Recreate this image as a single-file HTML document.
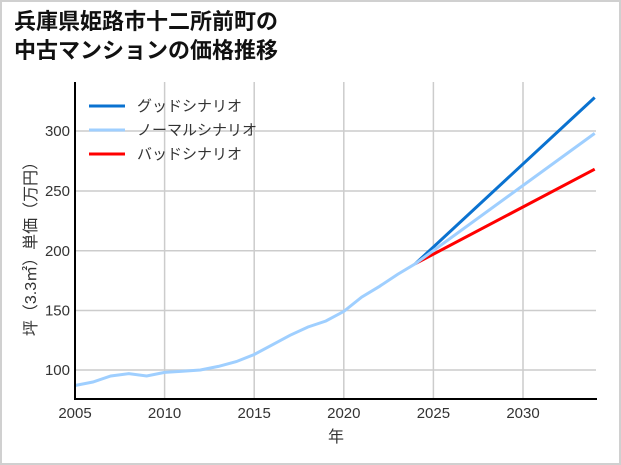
<!DOCTYPE html>
<html><head><meta charset="utf-8"><style>
html,body{margin:0;padding:0;background:#fff}
svg{display:block}
text{font-family:"Liberation Sans","Noto Sans CJK JP",sans-serif}
</style></head><body>
<svg width="621" height="465" viewBox="0 0 621 465">
<rect x="1" y="1" width="619" height="463" fill="#fff" stroke="#d0d0d0" stroke-width="2"/>
<text x="14" y="29" font-size="22" font-weight="bold" fill="#111">兵庫県姫路市十二所前町の</text>
<text x="14" y="58" font-size="22" font-weight="bold" fill="#111">中古マンションの価格推移</text>
<g stroke="#cccccc" stroke-width="1.5">
<line x1="75" y1="370" x2="596" y2="370"/>
<line x1="75" y1="310.5" x2="596" y2="310.5"/>
<line x1="75" y1="250.7" x2="596" y2="250.7"/>
<line x1="75" y1="191" x2="596" y2="191"/>
<line x1="75" y1="131" x2="596" y2="131"/>
<line x1="164.6" y1="82" x2="164.6" y2="399"/>
<line x1="254.2" y1="82" x2="254.2" y2="399"/>
<line x1="343.8" y1="82" x2="343.8" y2="399"/>
<line x1="433.4" y1="82" x2="433.4" y2="399"/>
<line x1="523" y1="82" x2="523" y2="399"/>
</g>
<polyline fill="none" stroke="#0a72d0" stroke-width="3" points="415.5,263.6 594.7,97.5"/>
<polyline fill="none" stroke="#ff0000" stroke-width="3" points="415.5,263.6 594.7,169.2"/>
<polyline fill="none" stroke="#9fcfff" stroke-width="3" points="75,385.5 92.9,382 110.8,376 128.8,373.6 146.7,376 164.6,372.4 182.5,371.2 200.4,370 218.4,366.4 236.3,361.6 254.2,354.5 272.1,344.9 290,335.3 308,327 325.9,321 343.8,311.4 361.7,297.1 379.6,286.3 397.6,274.4 415.5,263.6 594.7,133.4"/>
<rect x="597" y="80" width="22" height="330" fill="#fff"/>
<line x1="75" y1="82" x2="75" y2="400" stroke="#000" stroke-width="2"/>
<line x1="74" y1="399" x2="597" y2="399" stroke="#000" stroke-width="2"/>
<g font-size="15" fill="#333" text-anchor="end">
<text x="70" y="375">100</text>
<text x="70" y="315.5">150</text>
<text x="70" y="256">200</text>
<text x="70" y="196">250</text>
<text x="70" y="136">300</text>
</g>
<g font-size="15" fill="#333" text-anchor="middle">
<text x="75" y="418">2005</text>
<text x="164.6" y="418">2010</text>
<text x="254.2" y="418">2015</text>
<text x="343.8" y="418">2020</text>
<text x="433.4" y="418">2025</text>
<text x="523" y="418">2030</text>
<text x="336" y="442" font-size="16">年</text>
</g>
<text transform="translate(36,245) rotate(-90)" font-size="16" fill="#333" text-anchor="middle">坪（3.3㎡）単価（万円）</text>
<line x1="89" y1="106" x2="125" y2="106" stroke="#0a72d0" stroke-width="3"/>
<line x1="89" y1="130" x2="125" y2="130" stroke="#9fcfff" stroke-width="3"/>
<line x1="89" y1="154" x2="125" y2="154" stroke="#ff0000" stroke-width="3"/>
<g font-size="15" fill="#333">
<text x="137" y="111">グッドシナリオ</text>
<text x="137" y="135">ノーマルシナリオ</text>
<text x="137" y="159">バッドシナリオ</text>
</g>
</svg>
</body></html>
